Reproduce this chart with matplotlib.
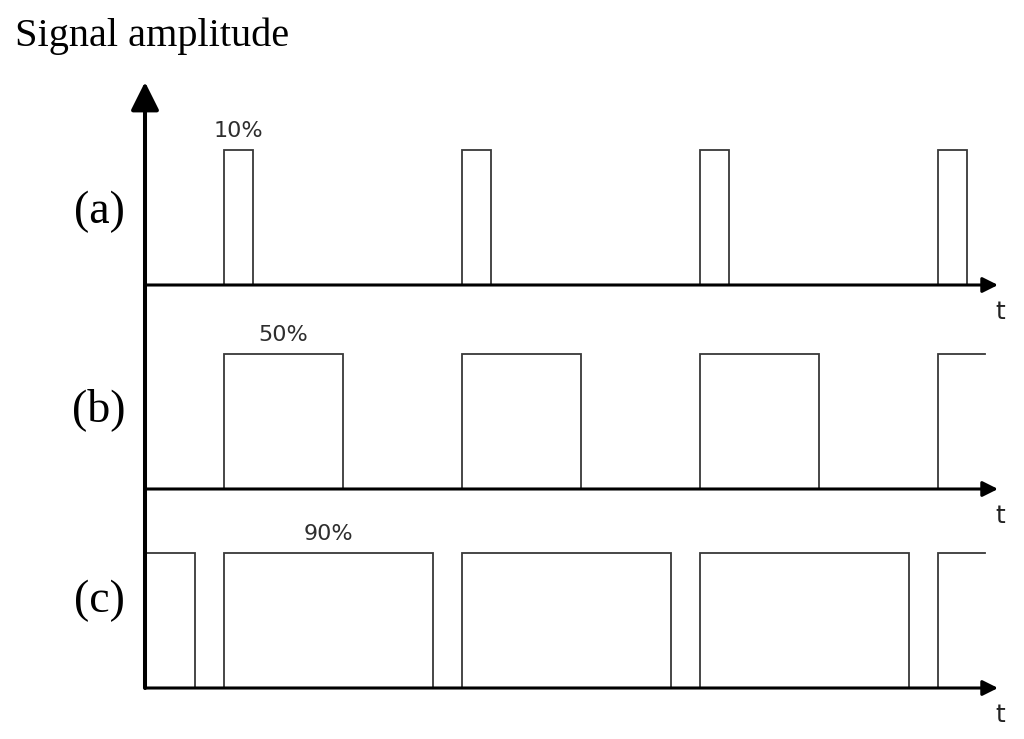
import numpy as np
import matplotlib
matplotlib.use('Agg')
import matplotlib.pyplot as plt

# pulse trains, time in units where one period = 10
period = 10.0
pulse_starts = [3.3, 13.3, 23.3, 33.3]
pulse_widths = [1.25, 5.0, 8.8]
duty_labels = ['10%', '50%', '90%']
row_labels = ['(a)', '(b)', '(c)']
t_end = 35.3

# layout (y in units of 100 px)
baselines = [4.03, 1.99, 0.0]
amp = 1.35
label_lift = [0.73, 0.79, 0.87]
axis_end = 35.84
yaxis_top = 6.06


def square_wave(starts, width, t_end):
    all_starts = [starts[0] - period] + list(starts)
    edges = []
    for s in all_starts:
        edges.append((s, 1))
        edges.append((s + width, 0))
    edges = sorted(e for e in edges if 0 < e[0] < t_end)
    cur = 1 if any(s <= 0 < s + width for s in all_starts) else 0
    xs, ys = [0.0], [cur]
    for x, lv in edges:
        xs += [x, x]
        ys += [cur, lv]
        cur = lv
    xs.append(t_end)
    ys.append(cur)
    return np.array(xs), np.array(ys)


fig = plt.figure(figsize=(10.24, 7.39), dpi=100)
ax = fig.add_axes([0, 0, 1, 1])
ax.set_xlim(-145 / 23.8, (1024 - 145) / 23.8)
ax.set_ylim(-0.51, 6.88)
ax.axis('off')

serif = 'Liberation Serif'

for i in range(3):
    b = baselines[i]
    xs, ys = square_wave(pulse_starts, pulse_widths[i], t_end)
    ax.plot(xs, b + ys * amp, color='#383838', lw=1.3, zorder=2,
            solid_joinstyle='miter')
    # time axis
    ax.annotate('', xy=(axis_end, b), xytext=(0, b),
                arrowprops=dict(arrowstyle='-|>', lw=2.2, color='black',
                                mutation_scale=23, shrinkA=0, shrinkB=0),
                zorder=4)
    ax.text(axis_end + 0.08, b - 0.27, 't', fontsize=18, color='#222222',
            ha='center', va='center', family='DejaVu Sans')
    ax.text(-1.93, b + label_lift[i], row_labels[i], fontsize=33,
            family=serif, ha='center', va='center')
    ax.text(pulse_starts[0] + pulse_widths[i] / 2, b + amp + 0.19,
            duty_labels[i], fontsize=16, color='#2e2e2e',
            ha='center', va='center', family='DejaVu Sans')

# vertical axis
ax.annotate('', xy=(0, yaxis_top), xytext=(0, 0),
            arrowprops=dict(arrowstyle='-|>', lw=2.9, color='black',
                            mutation_scale=43, shrinkA=0, shrinkB=0),
            zorder=5)

ax.text(-5.46, 6.52, 'Signal amplitude', fontsize=29, family=serif,
        ha='left', va='center')

fig.savefig('out.png', dpi=100)
